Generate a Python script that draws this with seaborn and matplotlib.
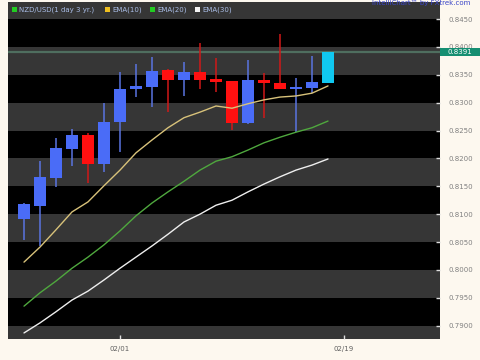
import matplotlib
matplotlib.use("Agg")
import matplotlib.pyplot as plt
import matplotlib.transforms as mtransforms
from matplotlib.patches import Rectangle
import numpy as np
import pandas as pd
import seaborn as sns

# ---- data ----
opens  = [0.8091, 0.8115, 0.8165, 0.8217, 0.8242, 0.8190, 0.8265, 0.8325, 0.8328, 0.8359,
          0.8341, 0.8355, 0.8342, 0.8339, 0.8264, 0.8341, 0.8335, 0.8325, 0.8326, 0.8335]
highs  = [0.8120, 0.8195, 0.8237, 0.8253, 0.8246, 0.8299, 0.8355, 0.8369, 0.8382, 0.8360,
          0.8373, 0.8407, 0.8380, 0.8339, 0.8377, 0.8353, 0.8423, 0.8344, 0.8384, 0.8391]
lows   = [0.8054, 0.8043, 0.8149, 0.8186, 0.8156, 0.8176, 0.8212, 0.8310, 0.8292, 0.8283,
          0.8312, 0.8325, 0.8319, 0.8251, 0.8262, 0.8273, 0.8325, 0.8247, 0.8317, 0.8335]
closes = [0.8118, 0.8167, 0.8219, 0.8242, 0.8190, 0.8265, 0.8325, 0.8330, 0.8357, 0.8341,
          0.8355, 0.8341, 0.8337, 0.8264, 0.8341, 0.8335, 0.8325, 0.8327, 0.8337, 0.8391]
ema10 = [0.8014, 0.8041, 0.8072, 0.8104, 0.8122, 0.8151, 0.8179, 0.8210, 0.8233, 0.8255,
         0.8273, 0.8283, 0.8294, 0.8290, 0.8298, 0.8305, 0.8310, 0.8312, 0.8317, 0.8330]
ema20 = [0.7935, 0.7959, 0.7980, 0.8003, 0.8023, 0.8045, 0.8070, 0.8097, 0.8120, 0.8140,
         0.8159, 0.8179, 0.8195, 0.8203, 0.8215, 0.8228, 0.8238, 0.8247, 0.8255, 0.8267]
ema30 = [0.7887, 0.7905, 0.7925, 0.7946, 0.7962, 0.7982, 0.8003, 0.8023, 0.8043, 0.8064,
         0.8086, 0.8100, 0.8116, 0.8125, 0.8140, 0.8154, 0.8167, 0.8179, 0.8188, 0.8199]
last_price = 0.8391
date_tick_pos = [6, 20]
date_tick_labels = ["02/01", "02/19"]
y_ticks = [0.7900, 0.7950, 0.8000, 0.8050, 0.8100, 0.8150, 0.8200, 0.8250, 0.8300,
           0.8350, 0.8400, 0.8450]
legend_labels = ["NZD/USD(1 day 3 yr.)", "EMA(10)", "EMA(20)", "EMA(30)"]

idx = np.arange(len(opens))
df = pd.DataFrame({"i": idx, "open": opens, "high": highs, "low": lows, "close": closes,
                   "ema10": ema10, "ema20": ema20, "ema30": ema30})

sns.set_style("dark")
plt.rcParams["font.family"] = ["DejaVu Sans"]

BG = "#fdf8ef"
fig = plt.figure(figsize=(4.8, 3.6), dpi=100, facecolor=BG)
ax = fig.add_axes([8 / 480, 21 / 360, 432 / 480, 337 / 360])
ax.set_facecolor("black")
ax.set_xlim(-1, 26)
ax.set_ylim(0.78761, 0.84805)

# alternating bands
for k in range(14):
    lo = 0.785 + 0.005 * k
    ax.axhspan(lo, lo + 0.005, color=("black" if k % 2 == 1 else "#363636"), lw=0, zorder=0)

# last price line
ax.axhline(last_price, color="#4f6e5f", lw=1.6, zorder=1)

# candles
up_c, dn_c, last_c = "#4a6cf7", "#ff1010", "#10c8f0"
cols = []
for j, (o, c) in enumerate(zip(opens, closes)):
    if j == len(opens) - 1:
        cols.append(last_c)
    else:
        cols.append(up_c if c >= o else dn_c)
wick_cols = [{"#4a6cf7": "#5a74e0", "#ff1010": "#d01818", "#10c8f0": "#10c8f0"}[c] for c in cols]
ax.vlines(df["i"], df["low"], df["high"], colors=wick_cols, lw=1.1, zorder=2)
bottoms = np.minimum(df["open"], df["close"])
heights = np.maximum(np.abs(df["close"] - df["open"]), 0.00022)
ax.bar(df["i"], heights, bottom=bottoms, width=0.72, color=cols, lw=0, zorder=3)

# EMA lines
sns.lineplot(data=df, x="i", y="ema10", color="#d8c27a", lw=1.0, ax=ax, zorder=4)
sns.lineplot(data=df, x="i", y="ema20", color="#4fa83e", lw=1.0, ax=ax, zorder=4)
sns.lineplot(data=df, x="i", y="ema30", color="#eeeeee", lw=1.0, ax=ax, zorder=4)

# axes styling
ax.grid(False)
for s in ax.spines.values():
    s.set_visible(False)
ax.set_xlabel("")
ax.set_ylabel("")
ax.yaxis.tick_right()
ax.set_yticks(y_ticks)
ax.set_yticklabels([f"{v:.4f}" for v in y_ticks])
ax.tick_params(axis="y", direction="in", length=3, width=1, color="#dddddd",
               labelsize=5, labelcolor="#808080", pad=6, right=True, left=False)
ax.set_xticks(date_tick_pos)
ax.set_xticklabels(date_tick_labels)
ax.tick_params(axis="x", direction="in", length=3, width=1, color="#dddddd",
               labelsize=5, labelcolor="#606060", pad=5, bottom=True)

# last price box on right axis
trans = mtransforms.blended_transform_factory(fig.transFigure, ax.transData)
box_h = 0.0014
fig.add_artist(Rectangle((440 / 480, last_price - box_h / 2), 40 / 480, box_h,
                         transform=trans, facecolor="#168f72", edgecolor="none", zorder=5))
fig.text(447 / 480, last_price, f"{last_price:.4f}", transform=trans, color="white",
         fontsize=5, va="center", ha="left", zorder=6)

# legend row at top
leg_items = [(12, "#22cc22", legend_labels[0]), (105, "#f0c020", legend_labels[1]),
             (150, "#22cc22", legend_labels[2]), (195, "#f4f4f4", legend_labels[3])]
for px, col, lab in leg_items:
    fig.add_artist(Rectangle((px / 480, 1 - 12 / 360), 5 / 480, 5 / 360,
                             transform=fig.transFigure, facecolor=col, edgecolor="none", zorder=5))
    fig.text((px + 7) / 480, 1 - 9.5 / 360, lab, color="#a9bde6", fontsize=5,
             va="center", ha="left", zorder=6)

# watermark
fig.text(470 / 480, 1 - 0.5 / 360, "IntelliChart\u2122 by FXtrek.com", color="#3a45c8",
         fontsize=5, ha="right", va="top", zorder=6)

fig.savefig("out.png", dpi=100, facecolor=BG)
